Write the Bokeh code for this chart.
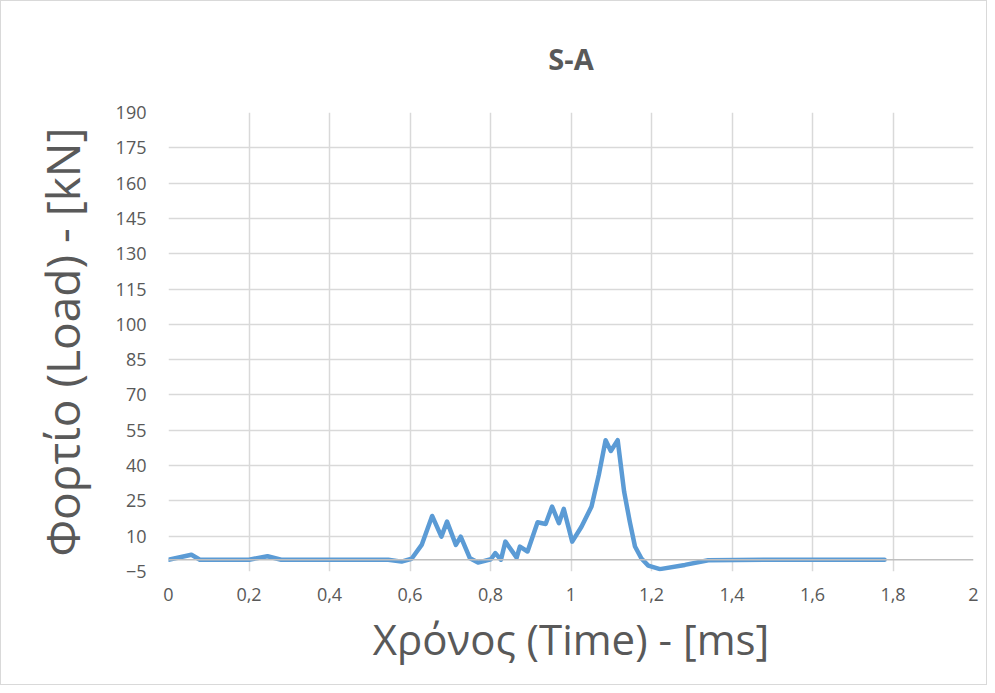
from bokeh.plotting import figure
from bokeh.models import FixedTicker, Span, ColumnDataSource
from bokeh.embed import file_html
from bokeh.resources import INLINE

# Data
time_ms = [0.0, 0.057, 0.078, 0.20, 0.246, 0.28, 0.40, 0.546, 0.579, 0.604,
           0.629, 0.655, 0.678, 0.692, 0.714, 0.726, 0.749, 0.769, 0.801, 0.812,
           0.826, 0.837, 0.865, 0.873, 0.892, 0.917, 0.937, 0.953, 0.970, 0.982,
           1.003, 1.026, 1.051, 1.069, 1.086, 1.099, 1.116, 1.132, 1.146, 1.159,
           1.175, 1.192, 1.221, 1.283, 1.341, 1.50, 1.779]
load_kn = [0.0, 2.1, 0.0, 0.0, 1.5, 0.0, 0.0, 0.0, -0.8, 0.4,
           6.3, 18.6, 9.8, 16.2, 6.3, 9.8, 0.6, -1.2, 0.2, 2.8,
           0.0, 7.7, 0.9, 5.6, 3.5, 15.9, 15.2, 22.6, 15.5, 21.6,
           7.7, 14.0, 22.6, 36.0, 50.8, 46.2, 50.8, 28.9, 16.2, 5.6,
           0.5, -2.5, -4.0, -2.2, -0.2, 0.0, 0.0]

x_ticks = [0, 0.2, 0.4, 0.6, 0.8, 1.0, 1.2, 1.4, 1.6, 1.8, 2.0]
x_tick_labels = ["0", "0,2", "0,4", "0,6", "0,8", "1", "1,2", "1,4", "1,6", "1,8", "2"]
y_ticks = [-5, 10, 25, 40, 55, 70, 85, 100, 115, 130, 145, 160, 175, 190]

title_text = "S-A"
x_label = "Χρόνος (Time) - [ms]"
y_label = "Φορτίο (Load) - [kN]"

FONT = "Open Sans"
TXT = "#595959"
GRID = "#d9d9d9"

p = figure(width=987, height=685, output_backend="svg", toolbar_location=None,
           x_range=(0, 2), y_range=(-5, 190), title=title_text,
           min_border_left=167, min_border_right=15, min_border_top=110,
           min_border_bottom=115)
p.styles = {"border": "1px solid #d9d9d9"}

p.title.align = "center"
p.title.text_font = FONT
p.title.text_font_size = "29px"
p.title.text_font_style = "bold"
p.title.text_color = TXT
p.title.standoff = 70

p.outline_line_color = None
p.background_fill_color = "white"

p.xaxis.ticker = FixedTicker(ticks=x_ticks)
p.xaxis.major_label_overrides = {t: l for t, l in zip(x_ticks, x_tick_labels)}
p.yaxis.ticker = FixedTicker(ticks=y_ticks)

for ax in (p.xaxis, p.yaxis):
    ax.axis_line_color = None
    ax.major_tick_line_color = None
    ax.minor_tick_line_color = None
    ax.major_label_text_font = FONT
    ax.major_label_text_font_size = "18px"
    ax.major_label_text_color = TXT
    ax.axis_label_text_font = FONT
    ax.axis_label_text_font_style = "normal"
    ax.axis_label_text_color = TXT

p.xaxis.axis_label_text_font_size = "42px"
p.yaxis.axis_label_text_font_size = "46px"
p.xaxis.axis_label = x_label
p.yaxis.axis_label = y_label
p.xaxis.major_label_standoff = 10
p.yaxis.major_label_standoff = 16
p.xaxis.axis_label_standoff = 6
p.yaxis.axis_label_standoff = 20

p.xgrid.grid_line_color = GRID
p.ygrid.grid_line_color = GRID
p.xgrid.grid_line_width = 1.5
p.ygrid.grid_line_width = 1.5

p.add_layout(Span(location=0, dimension="width", line_color="#bfbfbf", line_width=1.5))

src = ColumnDataSource(dict(t=time_ms, f=load_kn))
p.line("t", "f", source=src, line_color="#5B9BD5", line_width=4.5,
       line_join="round", line_cap="round")

open("out.html", "w").write(file_html(p, INLINE))
